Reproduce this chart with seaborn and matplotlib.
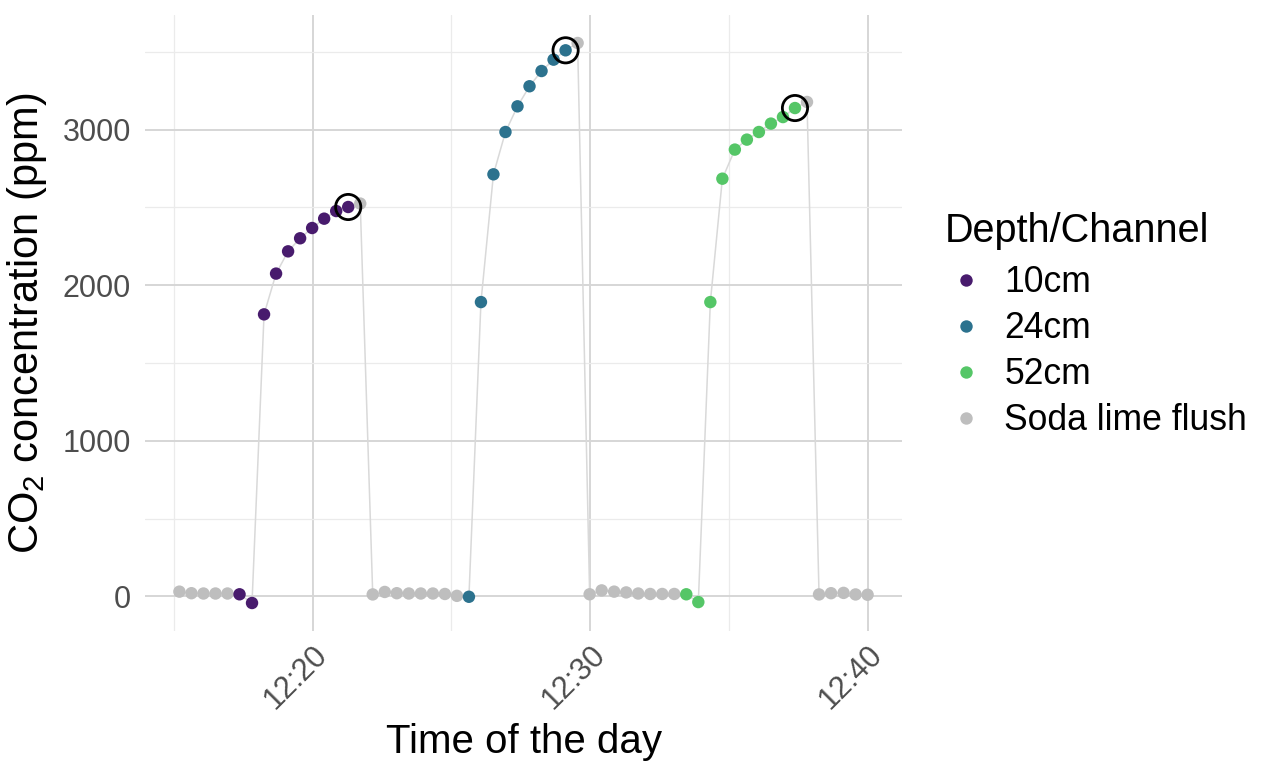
import matplotlib
matplotlib.use("Agg")
import matplotlib.pyplot as plt
import matplotlib.dates as mdates
import matplotlib.ticker as mticker
import seaborn as sns
import pandas as pd

# ---- data ----
times = [
    "12:15:12", "12:15:38", "12:16:04", "12:16:30", "12:16:56",
    "12:17:22", "12:17:49", "12:18:15", "12:18:41", "12:19:07",
    "12:19:33", "12:19:59", "12:20:25", "12:20:51", "12:21:17",
    "12:21:43",
    "12:22:10", "12:22:36", "12:23:02", "12:23:28", "12:23:54",
    "12:24:20", "12:24:46", "12:25:12",
    "12:25:38", "12:26:04", "12:26:31", "12:26:57", "12:27:23",
    "12:27:49", "12:28:15", "12:28:41", "12:29:07",
    "12:29:33",
    "12:29:59", "12:30:25", "12:30:52", "12:31:18", "12:31:44",
    "12:32:10", "12:32:36", "12:33:02",
    "12:33:28", "12:33:54", "12:34:20", "12:34:46", "12:35:13",
    "12:35:39", "12:36:05", "12:36:31", "12:36:57", "12:37:23",
    "12:37:49",
    "12:38:15", "12:38:41", "12:39:08", "12:39:34", "12:40:00",
]
co2 = [
    30, 20, 18, 18, 18,
    13, -43, 1812, 2074, 2217, 2301, 2367, 2427, 2476, 2502,
    2524,
    12, 28, 20, 18, 18, 18, 15, 3,
    -3, 1891, 2712, 2984, 3149, 3278, 3376, 3449, 3509,
    3556,
    13, 38, 30, 25, 18, 15, 15, 15,
    13, -37, 1891, 2684, 2871, 2935, 2984, 3038, 3080, 3138,
    3177,
    12, 20, 22, 12, 10,
]
channel = (["Soda lime flush"] * 5 + ["10cm"] * 10 + ["Soda lime flush"] * 9
           + ["24cm"] * 9 + ["Soda lime flush"] * 9 + ["52cm"] * 10
           + ["Soda lime flush"] * 6)
channel_order = ["10cm", "24cm", "52cm", "Soda lime flush"]
channel_colors = ["#481B6D", "#2C728E", "#55C667", "#BEBEBE"]

df = pd.DataFrame({
    "time": pd.to_datetime("2021-06-01 " + pd.Series(times)),
    "co2": co2,
    "channel": channel,
})

sns.set_style("white")
plt.rcParams["font.family"] = ["Liberation Sans", "DejaVu Sans"]
plt.rcParams["mathtext.fontset"] = "custom"
plt.rcParams["mathtext.rm"] = "Liberation Sans"
plt.rcParams["mathtext.it"] = "Liberation Sans:italic"
plt.rcParams["text.color"] = "black"

W, H = 1261, 763
fig = plt.figure(figsize=(W / 100, H / 100), dpi=100)
ax = fig.add_axes([145 / W, 1 - 631 / H, (902 - 145) / W, (631 - 15) / H])

sns.lineplot(data=df, x="time", y="co2", color="#d9d9d9", lw=1.1,
             estimator=None, sort=True, ax=ax, zorder=2)
sns.scatterplot(data=df, x="time", y="co2", hue="channel",
                hue_order=channel_order, palette=channel_colors,
                s=80, linewidth=0, ax=ax, zorder=3)

last = df[df["channel"] != "Soda lime flush"].groupby("channel").tail(1)
sns.scatterplot(data=last, x="time", y="co2", s=330, linewidth=2.0,
                ax=ax, zorder=4, legend=False)
ring = ax.collections[-1]
ring.set_facecolor("none")
ring.set_edgecolor("black")

ax.margins(x=0.05, y=0.05)

ax.xaxis.set_major_locator(mdates.MinuteLocator(byminute=[20, 30, 40]))
ax.xaxis.set_minor_locator(mdates.MinuteLocator(byminute=[15, 25, 35]))
ax.xaxis.set_major_formatter(mdates.DateFormatter("%H:%M"))
ax.yaxis.set_major_locator(mticker.MultipleLocator(1000))
ax.yaxis.set_minor_locator(mticker.MultipleLocator(500))

ax.grid(which="major", color="#d6d6d6", lw=1.4)
ax.grid(which="minor", color="#ebebeb", lw=0.9)
ax.set_axisbelow(True)
for s in ax.spines.values():
    s.set_visible(False)

ax.tick_params(axis="both", which="both", length=0, labelsize=22,
               labelcolor="#4d4d4d")
ax.tick_params(axis="y", pad=10)
ax.tick_params(axis="x", pad=6)
plt.setp(ax.get_xticklabels(), rotation=45, ha="right", va="top",
         rotation_mode="anchor")

ax.set_xlabel("Time of the day", fontsize=29, color="black", labelpad=6)
ax.set_ylabel(r"CO$_2$ concentration (ppm)", fontsize=30, color="black",
              labelpad=10)

sns.move_legend(ax, "upper left", bbox_to_anchor=(945 / W, 1 - 212 / H),
                bbox_transform=fig.transFigure, frameon=False,
                title="Depth/Channel", title_fontsize=28.5, fontsize=25.6,
                handlelength=1.2, handletextpad=0.47, labelspacing=0.31,
                borderpad=0, borderaxespad=0, alignment="left")
leg = ax.get_legend()
leg._legend_box.sep = 11
leg.get_title().set_color("black")
for t in leg.get_texts():
    t.set_color("black")

fig.savefig("out.png", dpi=100)
